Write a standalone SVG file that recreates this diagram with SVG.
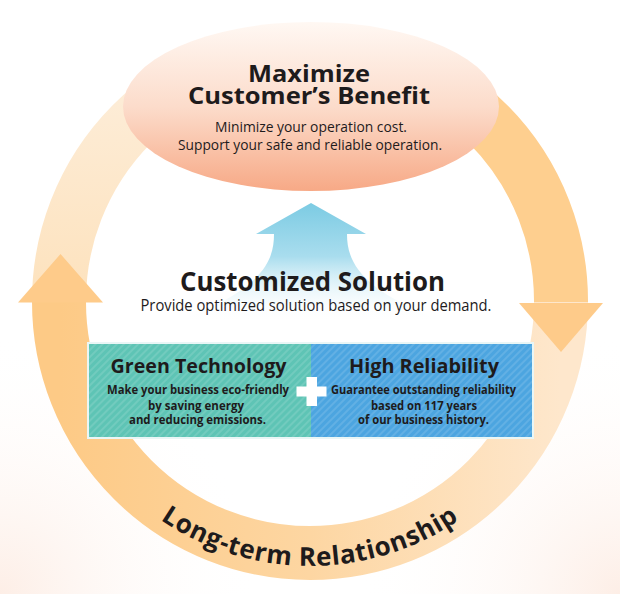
<svg xmlns="http://www.w3.org/2000/svg" width="620" height="594" viewBox="0 0 620 594">
<defs>
<linearGradient id="gEll" x1="0" y1="22" x2="0" y2="191" gradientUnits="userSpaceOnUse">
<stop offset="0" stop-color="#fff8f3"/>
<stop offset="0.5" stop-color="#fcdccb"/>
<stop offset="1" stop-color="#f7a986"/>
</linearGradient>
<linearGradient id="gUL" x1="0" y1="300" x2="0" y2="60" gradientUnits="userSpaceOnUse">
<stop offset="0" stop-color="#fde2bd"/>
<stop offset="1" stop-color="#fdeedb"/>
</linearGradient>
<linearGradient id="gLow" x1="560" y1="0" x2="60" y2="0" gradientUnits="userSpaceOnUse">
<stop offset="0" stop-color="#fee7cc"/>
<stop offset="0.5" stop-color="#fdd6a2"/>
<stop offset="1" stop-color="#fdca86"/>
</linearGradient>
<linearGradient id="gBlue" x1="0" y1="203" x2="0" y2="322" gradientUnits="userSpaceOnUse">
<stop offset="0" stop-color="#7ccbe3"/>
<stop offset="0.45" stop-color="#a9ddee"/>
<stop offset="1" stop-color="#ffffff" stop-opacity="0"/>
</linearGradient>
<radialGradient id="gBgL" cx="0" cy="594" r="260" gradientUnits="userSpaceOnUse">
<stop offset="0" stop-color="#fdeee6"/>
<stop offset="1" stop-color="#ffffff" stop-opacity="0"/>
</radialGradient>
<radialGradient id="gBgR" cx="620" cy="594" r="260" gradientUnits="userSpaceOnUse">
<stop offset="0" stop-color="#fdeee6"/>
<stop offset="1" stop-color="#ffffff" stop-opacity="0"/>
</radialGradient>
<pattern id="stripes" width="5" height="5" patternUnits="userSpaceOnUse" patternTransform="rotate(45)">
<rect x="0" y="0" width="2" height="5" fill="#ffffff" fill-opacity="0.12"/>
</pattern>
<path id="ringText" d="M61,391.6 A265,265 0 0 0 559,391.6"/>
</defs>
<style>
text{font-family:"Open Sans","Noto Sans","DejaVu Sans",sans-serif;fill:#1e1b1c;text-anchor:middle}
.b{font-weight:700}
.ring{fill:none;stroke-width:54}
.ah{fill:#fecb8a}
</style>
<rect width="620" height="594" fill="#ffffff"/>
<rect width="620" height="594" fill="url(#gBgL)"/>
<rect width="620" height="594" fill="url(#gBgR)"/>

<g id="connectors">
<path class="ring" d="M59,303 A251,251 0 0 1 310,50" stroke="url(#gUL)"/>
<path class="ring" d="M310,50 A251,251 0 0 1 561,303" stroke="#fecf8f"/>
<path class="ring" d="M561,302 A251,251 0 1 1 59,302" stroke="url(#gLow)"/>
<polygon class="ah" points="18,302.5 60.5,254 103,302.5"/>
<polygon class="ah" points="519,303 603,303 561,352"/>
<path d="M311,203 L366,234 L347,234 C347,262 360,290 445,322 L175,322 C262,290 274,262 274,234 L256,234 Z" fill="url(#gBlue)"/>
</g>

<g id="benefit">
<ellipse cx="311" cy="106.5" rx="188" ry="84.5" fill="url(#gEll)"/>
<text class="b" x="309" y="81.5" font-size="24" textLength="122" lengthAdjust="spacingAndGlyphs">Maximize</text>
<text class="b" x="309" y="104" font-size="24" textLength="242" lengthAdjust="spacingAndGlyphs">Customer’s Benefit</text>
<text x="311" y="132" font-size="15" textLength="192" lengthAdjust="spacingAndGlyphs">Minimize your operation cost.</text>
<text x="310" y="150" font-size="15" textLength="264" lengthAdjust="spacingAndGlyphs">Support your safe and reliable operation.</text>
</g>

<g id="solution">
<text class="b" x="312.5" y="291" font-size="27" textLength="265" lengthAdjust="spacingAndGlyphs">Customized Solution</text>
<text x="316" y="311" font-size="16" textLength="351" lengthAdjust="spacingAndGlyphs">Provide optimized solution based on your demand.</text>
</g>

<g id="green-technology">
<rect x="88" y="343" width="223" height="95" fill="#5ec4b5"/>
<rect x="88" y="343" width="223" height="95" fill="url(#stripes)"/>
<text class="b" x="198.5" y="372.5" font-size="20" textLength="176" lengthAdjust="spacingAndGlyphs">Green Technology</text>
<text class="b" x="198" y="394" font-size="11.5" textLength="182" lengthAdjust="spacingAndGlyphs">Make your business eco-friendly</text>
<text class="b" x="196" y="409.5" font-size="11.5" textLength="96" lengthAdjust="spacingAndGlyphs">by saving energy</text>
<text class="b" x="197.5" y="423.5" font-size="11.5" textLength="137" lengthAdjust="spacingAndGlyphs">and reducing emissions.</text>
</g>

<g id="high-reliability">
<rect x="311" y="343" width="222" height="95" fill="#4ca5e0"/>
<rect x="311" y="343" width="222" height="95" fill="url(#stripes)"/>
<text class="b" x="424" y="372.5" font-size="20" textLength="150" lengthAdjust="spacingAndGlyphs">High Reliability</text>
<text class="b" x="423.5" y="394" font-size="11.5" textLength="185" lengthAdjust="spacingAndGlyphs">Guarantee outstanding reliability</text>
<text class="b" x="424" y="409.5" font-size="11.5" textLength="106" lengthAdjust="spacingAndGlyphs">based on 117 years</text>
<text class="b" x="423.5" y="423.5" font-size="11.5" textLength="131" lengthAdjust="spacingAndGlyphs">of our business history.</text>
</g>
<rect x="88" y="343" width="445" height="95" fill="none" stroke="#e9f6f6" stroke-width="2"/>

<g id="plus">
<rect x="296.5" y="386.5" width="30" height="10" fill="#ffffff"/>
<rect x="306.5" y="377" width="10.5" height="29" fill="#ffffff"/>
</g>

<g id="long-term-relationship">
<text class="b" font-size="26" letter-spacing="0.6"><textPath href="#ringText" startOffset="50%">Long-term Relationship</textPath></text>
</g>
</svg>
